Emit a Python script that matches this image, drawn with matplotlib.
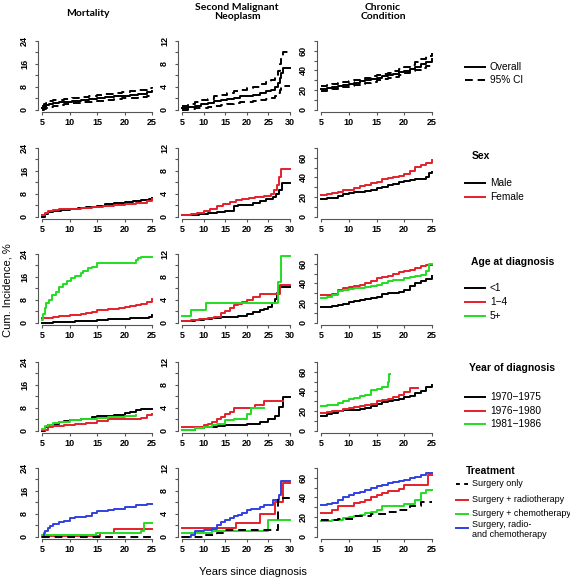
import matplotlib.pyplot as plt
from matplotlib.ticker import MultipleLocator

W, H = 570, 578
RED = "#e3202b"
GREEN = "#22dd22"
BLUE = "#3040e0"
BLACK = "black"

# ---- row 1: overall with 95% CI
mort_x = [5, 5.3, 5.7, 6.3, 7, 8, 9, 10.5, 12, 13.5, 15, 16.5, 18, 19.5, 21, 22.5, 24, 25]
mort_y = [0.5, 1.0, 1.5, 1.9, 2.2, 2.5, 2.8, 3.1, 3.4, 3.7, 4.0, 4.3, 4.6, 4.9, 5.2, 5.5, 6.0, 6.4]
mort_hi = [1.3, 1.9, 2.4, 2.9, 3.2, 3.5, 3.8, 4.1, 4.4, 4.7, 5.0, 5.4, 5.8, 6.2, 6.6, 7.0, 7.5, 7.9]
mort_lo = [0.0, 0.3, 0.7, 1.0, 1.3, 1.6, 1.9, 2.2, 2.5, 2.8, 3.1, 3.4, 3.7, 4.0, 4.2, 4.5, 4.9, 5.2]

smn_x = [5, 6.5, 8, 9.5, 11, 12.5, 14, 15.5, 17, 18.5, 20, 21.5, 23, 24.5, 25.5, 26.5, 27.2, 27.6, 28, 28.3, 30]
smn_y = [0.3, 0.5, 0.7, 0.9, 1.2, 1.5, 1.7, 1.9, 2.1, 2.3, 2.4, 2.6, 2.9, 3.2, 3.5, 3.9, 4.6, 5.5, 6.4, 7.2, 7.2]
smn_hi = [0.7, 1.0, 1.3, 1.6, 1.9, 2.3, 2.6, 2.9, 3.2, 3.5, 3.7, 4.0, 4.4, 4.8, 5.2, 5.7, 6.8, 8.0, 9.2, 10.0, 10.0]
smn_lo = [0.0, 0.1, 0.2, 0.3, 0.5, 0.7, 0.85, 1.0, 1.15, 1.3, 1.4, 1.5, 1.7, 1.9, 2.1, 2.4, 2.9, 3.4, 3.9, 4.2, 4.2]

cc_x = [5, 6, 7, 8, 9, 10, 11, 12, 13, 14, 15, 16, 17, 18, 19, 20, 21, 22, 23, 24, 25]
cc_y = [21.3, 22.3, 23.3, 24.4, 25.4, 26.4, 27.5, 28.7, 29.9, 31.1, 32.5, 33.8, 35.0, 36.3, 37.9, 39.6, 41.5, 43.6, 46.0, 48.8, 52.0]
cc_hi = [23.7, 24.7, 25.7, 26.7, 27.7, 28.8, 30.0, 31.2, 32.5, 33.8, 35.0, 36.4, 37.8, 39.3, 41.2, 43.4, 45.7, 48.3, 51.2, 54.5, 57.6]
cc_lo = [19.0, 19.9, 20.9, 21.9, 22.8, 23.7, 24.8, 26.0, 27.2, 28.5, 29.8, 31.1, 32.4, 33.7, 35.4, 37.3, 39.0, 40.8, 42.7, 44.6, 46.8]

# ---- row 2: sex
male_mort_x = [5, 5.5, 6, 7, 8.5, 10, 11.5, 13, 15, 16.5, 18, 20, 21.5, 23, 24.5, 25]
male_mort_y = [0.0, 0.9, 1.6, 2.0, 2.4, 2.8, 3.1, 3.4, 3.7, 4.3, 4.6, 5.0, 5.3, 5.8, 6.3, 6.4]
female_mort_x = [5, 5.5, 6, 7, 8, 10, 12, 14, 16, 18, 20, 22, 24, 25]
female_mort_y = [0.5, 1.3, 2.0, 2.3, 2.5, 2.8, 3.1, 3.4, 3.8, 4.1, 4.5, 4.9, 5.4, 6.0]

male_smn_x = [5, 7, 9, 11, 13, 15, 17, 18, 20, 21.5, 23, 24.5, 26, 26.8, 27.4, 28.2, 30]
male_smn_y = [0.2, 0.3, 0.5, 0.65, 0.8, 1.0, 1.9, 2.0, 2.0, 2.3, 2.7, 3.1, 3.5, 3.9, 4.7, 5.8, 5.8]
female_smn_x = [5, 7, 8.5, 10, 11.5, 13, 14.5, 16, 17.5, 19, 20.5, 22, 24, 25.5, 26.3, 27, 27.5, 28, 30]
female_smn_y = [0.2, 0.4, 0.65, 1.0, 1.3, 1.9, 2.2, 2.6, 2.9, 3.1, 3.3, 3.5, 3.6, 4.0, 4.6, 5.6, 7.0, 8.4, 8.4]

male_cc_x = [5, 6, 7, 8, 9, 10, 11, 12, 13, 14, 15, 16, 17, 18, 19, 20, 21, 22, 23, 24, 24.5, 25]
male_cc_y = [18.3, 18.5, 19.0, 21.0, 22.5, 23.8, 24.6, 25.5, 26.4, 27.5, 29.5, 30.6, 31.8, 33.2, 34.8, 36.0, 37.0, 38.2, 38.8, 40.5, 44.0, 45.6]
female_cc_x = [5, 6, 7, 8, 9, 10, 11, 12, 13, 14, 15, 16, 17, 18, 19, 20, 21, 22, 23, 24, 25]
female_cc_y = [22.4, 23.5, 24.2, 25.5, 26.6, 27.5, 29.2, 31.5, 32.5, 34.0, 35.5, 38.0, 39.5, 40.8, 41.5, 43.7, 47.0, 51.0, 53.0, 54.6, 57.3]

# ---- row 3: age at diagnosis
age1_mort_x = [5, 7, 9, 11, 13, 15, 17, 19, 21, 23, 24.5, 25]
age1_mort_y = [0.0, 0.1, 0.25, 0.4, 0.7, 1.0, 1.2, 1.4, 1.5, 1.7, 2.0, 2.5]
age2_mort_x = [5, 6, 7, 8, 9, 10, 11, 12, 13, 14, 15, 16, 17, 18, 19, 20, 21, 22, 23, 24, 25]
age2_mort_y = [1.5, 1.7, 2.0, 2.2, 2.4, 2.6, 2.8, 3.0, 3.4, 3.8, 4.4, 4.5, 4.6, 4.9, 5.1, 5.3, 5.8, 6.2, 6.6, 7.3, 8.1]
age3_mort_x = [5, 5.2, 5.5, 5.8, 6.2, 6.8, 7.5, 8, 8.8, 9.5, 10.2, 11, 12, 12.5, 13.3, 14, 15, 22, 22.5, 23, 25]
age3_mort_y = [0.9, 3.0, 5.0, 7.0, 8.0, 9.6, 10.8, 12.5, 13.6, 14.5, 15.6, 16.2, 17.2, 18.0, 19.0, 19.4, 20.8, 21.9, 22.5, 23.1, 23.1]

age1_smn_x = [5, 8, 10, 12, 14, 16, 18, 20, 21.5, 23, 24, 25, 25.8, 26.5, 27, 27.5, 30]
age1_smn_y = [0.2, 0.4, 0.6, 0.8, 0.9, 1.0, 1.2, 1.5, 1.8, 2.2, 2.4, 2.7, 3.4, 4.2, 5.2, 6.2, 6.2]
age2_smn_x = [5, 7, 9, 11, 12.5, 14, 15, 16, 17, 18, 19, 20, 21.5, 23, 27.8, 30]
age2_smn_y = [0.3, 0.45, 0.6, 0.8, 1.0, 1.6, 2.0, 2.5, 3.1, 3.3, 3.6, 4.0, 4.5, 5.0, 6.5, 6.5]
age3_smn_x = [5, 7, 10.5, 27.3, 28, 30]
age3_smn_y = [1.15, 2.2, 3.35, 7.1, 11.6, 11.6]

age1_cc_x = [5, 6, 7, 8, 9, 10, 11, 12, 13, 14, 15, 16, 17, 18, 19, 20, 21, 22, 23, 24, 25]
age1_cc_y = [15.7, 16.0, 16.8, 18.0, 19.0, 20.5, 21.5, 23.0, 24.0, 25.0, 26.0, 29.5, 30.0, 30.3, 30.8, 33.5, 37.0, 40.0, 42.0, 44.0, 47.3]
age2_cc_x = [5, 6, 7, 8, 9, 10, 11, 12, 13, 14, 15, 16, 17, 18, 19, 20, 21, 22, 23, 24, 25]
age2_cc_y = [28.4, 28.6, 29.5, 33.6, 35.0, 36.0, 37.5, 38.7, 40.0, 42.5, 45.5, 46.5, 48.0, 50.0, 51.7, 52.5, 54.0, 56.0, 58.0, 58.5, 59.0]
age3_cc_x = [5, 6, 7, 8, 9, 10, 11, 12, 13, 14, 15, 16, 17, 18, 19, 20, 21, 22, 23, 24, 24.5, 25]
age3_cc_y = [25.0, 26.0, 28.4, 31.8, 33.0, 34.0, 34.8, 35.3, 36.5, 37.5, 38.7, 40.0, 42.0, 43.0, 43.8, 45.0, 46.0, 47.3, 49.0, 52.4, 60.0, 60.0]

# ---- row 4: year of diagnosis
yr1_mort_x = [5, 5.5, 6, 7, 8, 9, 10, 12, 14, 15, 16, 18, 20, 21, 22, 23, 25]
yr1_mort_y = [0.0, 1.2, 1.8, 2.3, 2.9, 3.3, 3.8, 4.2, 4.6, 5.0, 5.2, 5.6, 6.1, 6.5, 7.1, 7.4, 7.4]
yr2_mort_x = [5, 6, 7, 9, 11, 13, 15, 17, 20, 23, 24, 25]
yr2_mort_y = [0.2, 1.2, 1.6, 1.9, 2.3, 2.8, 3.3, 4.1, 4.1, 4.5, 5.3, 5.9]
yr3_mort_x = [5, 5.5, 6, 7, 8, 10, 12, 15, 17, 20, 22]
yr3_mort_y = [0.6, 1.6, 2.0, 2.5, 2.9, 3.8, 4.1, 4.5, 4.8, 5.0, 5.3]

yr1_smn_x = [5, 8, 10, 13, 15, 18, 20, 23, 25, 26.5, 27.5, 28.3, 30]
yr1_smn_y = [0.1, 0.4, 0.6, 0.75, 0.9, 1.0, 1.2, 1.5, 2.1, 2.5, 4.1, 5.9, 5.9]
yr2_smn_x = [5, 10, 11, 12, 13, 14, 15, 16, 17, 21, 22, 24, 28.3]
yr2_smn_y = [0.6, 0.9, 1.2, 1.5, 2.1, 2.4, 2.9, 3.2, 4.0, 4.0, 4.4, 5.2, 5.2]
yr3_smn_x = [5, 8, 10, 12, 13, 15, 17, 18, 20, 21, 24]
yr3_smn_y = [0.1, 0.4, 0.7, 0.9, 1.1, 1.8, 2.0, 2.1, 2.9, 4.0, 4.0]

yr1_cc_x = [5, 6, 7, 8, 9, 10, 11, 12, 13, 14, 15, 16, 17, 18, 19, 20, 21, 22, 23, 24, 25]
yr1_cc_y = [15.3, 17.0, 17.5, 19.7, 20.5, 21.0, 21.0, 21.5, 23.5, 25.4, 27.0, 28.8, 30.0, 31.0, 32.2, 34.0, 35.6, 38.0, 40.0, 44.0, 46.4]
yr2_cc_x = [5, 6, 7, 8, 9, 10, 11, 12, 13, 14, 15, 16, 17, 18, 19, 20, 21, 22.5]
yr2_cc_y = [17.6, 18.5, 19.5, 20.3, 21.5, 22.5, 24.0, 25.4, 26.5, 27.5, 29.8, 31.0, 32.5, 33.9, 36.0, 39.0, 43.4, 43.4]
yr3_cc_x = [5, 6, 7, 8, 9, 10, 11, 12, 13, 14, 15, 16, 17, 17.3, 17.5]
yr3_cc_y = [25.4, 25.8, 26.4, 28.0, 30.0, 32.2, 33.5, 35.0, 36.6, 41.4, 42.5, 44.0, 50.0, 57.6, 57.6]

# ---- row 5: treatment
surg_mort_x = [5, 25]
surg_mort_y = [0.0, 0.0]
rad_mort_x = [5, 15.5, 18, 25]
rad_mort_y = [0.2, 1.2, 2.6, 2.6]
chem_mort_x = [5, 14.8, 23, 23.5, 25]
chem_mort_y = [0.6, 1.4, 2.1, 4.7, 4.7]
both_mort_x = [5, 5.3, 5.6, 6, 6.5, 7, 8, 9, 10, 11, 12, 13, 14, 15, 16, 17, 18, 19, 20, 21, 22, 23, 24, 25]
both_mort_y = [0.0, 1.2, 2.1, 2.9, 3.6, 4.4, 5.0, 5.6, 6.4, 6.7, 6.9, 7.2, 8.1, 8.9, 9.1, 9.3, 9.5, 9.8, 10.2, 10.5, 11.0, 11.1, 11.3, 11.3]

surg_smn_x = [5, 10.5, 13, 15, 27.2, 30]
surg_smn_y = [0.0, 0.3, 0.6, 1.2, 6.7, 6.7]
rad_smn_x = [5, 17.5, 23, 26.5, 28.3, 30]
rad_smn_y = [1.45, 2.3, 3.9, 6.1, 9.4, 9.4]
chem_smn_x = [5, 12, 25, 30]
chem_smn_y = [0.6, 0.9, 2.9, 2.9]
both_smn_x = [5, 7, 8, 9, 10, 12, 13, 14, 15, 16, 17, 18, 19, 20, 21, 22, 23, 24, 25, 26, 27, 27.5, 28, 30]
both_smn_y = [0.0, 0.3, 0.9, 1.0, 1.15, 1.4, 2.0, 2.5, 2.9, 3.2, 3.6, 3.8, 4.2, 4.6, 4.8, 4.9, 5.2, 5.5, 5.5, 6.4, 6.4, 7.2, 9.7, 9.7]

surg_cc_x = [5, 8, 11, 14, 17, 19, 21, 23, 25]
surg_cc_y = [16.4, 17.8, 20.5, 23.3, 24.7, 27.4, 30.8, 34.9, 34.9]
rad_cc_x = [5, 6, 7, 8, 9, 10, 11, 12, 13, 14, 15, 16, 17, 18, 19, 20, 24, 24.3, 25]
rad_cc_y = [24.0, 24.5, 26.7, 30.8, 31.0, 31.2, 34.2, 35.0, 37.7, 40.0, 42.8, 44.0, 46.2, 47.0, 49.0, 53.0, 53.0, 63.3, 63.3]
chem_cc_x = [5, 6, 7, 8, 9, 10, 11, 12, 13, 14, 15, 16, 17, 18, 19, 20, 21, 22, 23, 24, 25]
chem_cc_y = [15.4, 16.0, 16.5, 17.1, 18.5, 19.9, 21.0, 22.3, 24.0, 25.5, 27.4, 30.8, 31.0, 31.2, 31.5, 33.2, 33.5, 37.7, 44.5, 47.9, 47.9]
both_cc_x = [5, 6, 7, 8, 9, 10, 11, 12, 13, 14, 15, 16, 17, 18, 19, 20, 21, 22, 23, 24, 25]
both_cc_y = [32.5, 33.0, 34.0, 37.0, 40.0, 42.8, 44.0, 45.2, 48.0, 50.0, 51.4, 53.0, 54.5, 55.8, 56.5, 58.2, 59.5, 61.0, 63.0, 65.0, 65.0]

col_titles = ["Mortality", "Second Malignant\nNeoplasm", "Chronic\nCondition"]
legend_titles = [None, "Sex", "Age at diagnosis", "Year of diagnosis", "Treatment"]
legend_labels = [
    ["Overall", "95% CI"],
    ["Male", "Female"],
    ["<1", "1\u22124", "5+"],
    ["1970\u22121975", "1976\u22121980", "1981\u22121986"],
    ["Surgery only", "Surgery + radiotherapy", "Surgery + chemotherapy",
     "Surgery, radio-\nand chemotherapy"],
]

SOLID = dict(color=BLACK, ls="-")
DASH = dict(color=BLACK, ls=(0, (4, 2.5)))
styles = [
    [SOLID, DASH],
    [dict(color=BLACK), dict(color=RED)],
    [dict(color=BLACK), dict(color=RED), dict(color=GREEN)],
    [dict(color=BLACK), dict(color=RED), dict(color=GREEN)],
    [DASH, dict(color=RED), dict(color=GREEN), dict(color=BLUE)],
]

# series per row and column: (x, y, style index)
panels = [
    [[(mort_x, mort_y, 0), (mort_x, mort_hi, 1), (mort_x, mort_lo, 1)],
     [(smn_x, smn_y, 0), (smn_x, smn_hi, 1), (smn_x, smn_lo, 1)],
     [(cc_x, cc_y, 0), (cc_x, cc_hi, 1), (cc_x, cc_lo, 1)]],
    [[(male_mort_x, male_mort_y, 0), (female_mort_x, female_mort_y, 1)],
     [(male_smn_x, male_smn_y, 0), (female_smn_x, female_smn_y, 1)],
     [(male_cc_x, male_cc_y, 0), (female_cc_x, female_cc_y, 1)]],
    [[(age1_mort_x, age1_mort_y, 0), (age2_mort_x, age2_mort_y, 1), (age3_mort_x, age3_mort_y, 2)],
     [(age1_smn_x, age1_smn_y, 0), (age2_smn_x, age2_smn_y, 1), (age3_smn_x, age3_smn_y, 2)],
     [(age1_cc_x, age1_cc_y, 0), (age2_cc_x, age2_cc_y, 1), (age3_cc_x, age3_cc_y, 2)]],
    [[(yr1_mort_x, yr1_mort_y, 0), (yr2_mort_x, yr2_mort_y, 1), (yr3_mort_x, yr3_mort_y, 2)],
     [(yr1_smn_x, yr1_smn_y, 0), (yr2_smn_x, yr2_smn_y, 1), (yr3_smn_x, yr3_smn_y, 2)],
     [(yr1_cc_x, yr1_cc_y, 0), (yr2_cc_x, yr2_cc_y, 1), (yr3_cc_x, yr3_cc_y, 2)]],
    [[(rad_mort_x, rad_mort_y, 1), (chem_mort_x, chem_mort_y, 2), (both_mort_x, both_mort_y, 3), (surg_mort_x, surg_mort_y, 0)],
     [(rad_smn_x, rad_smn_y, 1), (chem_smn_x, chem_smn_y, 2), (both_smn_x, both_smn_y, 3), (surg_smn_x, surg_smn_y, 0)],
     [(rad_cc_x, rad_cc_y, 1), (chem_cc_x, chem_cc_y, 2), (both_cc_x, both_cc_y, 3), (surg_cc_x, surg_cc_y, 0)]],
]

# layout in pixels
col_px = [(37.6, 156.4), (177.7, 294.3), (316.6, 436.4)]
col_xmax = [25, 30, 25]
col_ymax = [24, 12, 70]
col_major = [8, 4, 20]
col_minor = [4, 2, 10]
row_top = [41, 148, 254, 362, 468]
PH = 68.5

TICKFONT = dict(family="Liberation Sans", weight="bold", size=6.5)
LW = 1.4

fig = plt.figure(figsize=(W / 100, H / 100), dpi=100)

for r in range(5):
    for c in range(3):
        x0, x1 = col_px[c]
        pad = 0.04 * PH
        ax = fig.add_axes([x0 / W, 1 - (row_top[r] + PH + pad) / H,
                           (x1 - x0) / W, (PH + 2 * pad) / H])
        xr = col_xmax[c] - 5
        ax.set_xlim(5 - 0.04 * xr, col_xmax[c] + 0.04 * xr)
        ax.set_ylim(-0.04 * col_ymax[c], col_ymax[c] * 1.04)
        for x, y, si in panels[r][c]:
            ax.step(x, y, where="post", lw=LW, **styles[r][si])
        ax.spines[["top", "right"]].set_visible(False)
        ax.spines["left"].set_bounds(0, col_ymax[c])
        ax.spines["bottom"].set_bounds(5, col_xmax[c])
        for s in ("left", "bottom"):
            ax.spines[s].set_color("#555555")
            ax.spines[s].set_linewidth(0.8)
        ax.xaxis.set_major_locator(MultipleLocator(5))
        ax.yaxis.set_major_locator(MultipleLocator(col_major[c]))
        ax.yaxis.set_minor_locator(MultipleLocator(col_minor[c]))
        ax.tick_params(which="both", length=2.2, width=0.8, color="#555555")
        ax.tick_params(axis="x", pad=2.2)
        ax.tick_params(axis="y", pad=4)
        for lab in ax.get_xticklabels():
            lab.set_fontproperties(TICKFONT)
        for lab in ax.get_yticklabels():
            lab.set_fontproperties(TICKFONT)
            lab.set_rotation(90)
            lab.set_va("center")
        ax.patch.set_alpha(0)

# column titles
title_x = [88, 237, 383]
title_y = [13, 12, 12]
for c in range(3):
    fig.text(title_x[c] / W, 1 - title_y[c] / H, col_titles[c], ha="center", va="center",
             family="Lato", weight="bold", size=7.5, linespacing=1.1)

fig.text(8 / W, 1 - 290 / H, "Cum. Incidence, %", rotation=90, ha="center", va="center",
         family="Liberation Sans", size=8)
fig.text(253 / W, 1 - 572 / H, "Years since diagnosis", ha="center", va="center",
         family="Liberation Sans", size=8)

# legends drawn in a pixel-space overlay
lay = fig.add_axes([0, 0, 1, 1])
lay.set_xlim(0, W)
lay.set_ylim(H, 0)
lay.axis("off")

leg_title_pos = [None, (472, 156), (471, 262), (469, 368), (466, 471)]
leg_entry_y = [[67, 80], [183, 197], [288, 302, 316], [397, 411, 424], [484, 500, 514, 529.5]]
leg_line_x = [(465, 485)] * 4 + [(456, 468)]
leg_text_x = [490] * 4 + [472]
leg_size = [7.3, 7.3, 7.3, 7.3, 6.5]

for r in range(5):
    if leg_title_pos[r]:
        tx, ty = leg_title_pos[r]
        lay.text(tx, ty, legend_titles[r], ha="left", va="center",
                 family="Liberation Sans", weight="bold", size=7.5)
    lx0, lx1 = leg_line_x[r]
    for i, lab in enumerate(legend_labels[r]):
        ey = leg_entry_y[r][i]
        ly = ey - 1.5 if "\n" in lab else ey
        st = dict(styles[r][i])
        if r == 4 and i == 0:
            st["ls"] = (0, (2, 2.2))
        lay.plot([lx0, lx1], [ly, ly], lw=LW, **st)
        lay.text(leg_text_x[r], ey, lab, ha="left", va="center",
                 family="Liberation Sans", size=leg_size[r], linespacing=1.08)

fig.savefig("out.png", dpi=100)
